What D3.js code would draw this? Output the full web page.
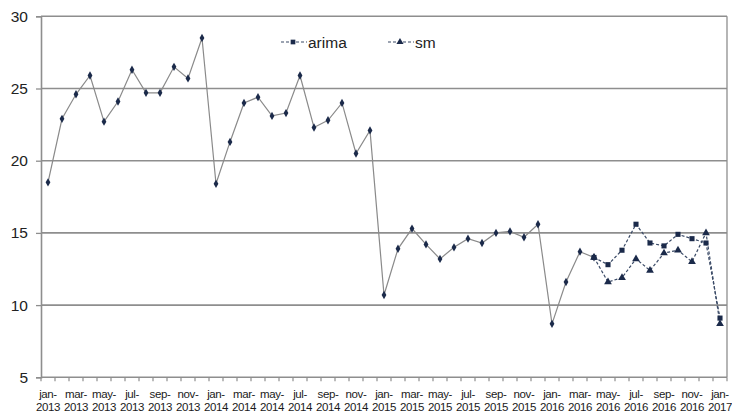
<!DOCTYPE html>
<html>
<head>
<meta charset="utf-8">
<script src="https://cdn.jsdelivr.net/npm/d3@7"></script>
<style>
  body { margin: 0; background: #fff; }
  svg { display: block; }
</style>
</head>
<body>
<div class="chart"></div>
<script>
"use strict";

// Monthly categories, jan-2013 .. jan-2017
var categories = [
    'jan-2013', 'feb-2013', 'mar-2013', 'apr-2013', 'may-2013', 'jun-2013', 'jul-2013', 'aug-2013', 'sep-2013', 'oct-2013', 'nov-2013', 'dec-2013',
    'jan-2014', 'feb-2014', 'mar-2014', 'apr-2014', 'may-2014', 'jun-2014', 'jul-2014', 'aug-2014', 'sep-2014', 'oct-2014', 'nov-2014', 'dec-2014',
    'jan-2015', 'feb-2015', 'mar-2015', 'apr-2015', 'may-2015', 'jun-2015', 'jul-2015', 'aug-2015', 'sep-2015', 'oct-2015', 'nov-2015', 'dec-2015',
    'jan-2016', 'feb-2016', 'mar-2016', 'apr-2016', 'may-2016', 'jun-2016', 'jul-2016', 'aug-2016', 'sep-2016', 'oct-2016', 'nov-2016', 'dec-2016',
    'jan-2017'
]

// observed series (jan-2013 .. apr-2016)
var actualValues = [
    18.5, 22.9, 24.6, 25.9, 22.7, 24.1, 26.3, 24.7, 24.7, 26.5, 25.7, 28.5,
    18.4, 21.3, 24.0, 24.4, 23.1, 23.3, 25.9, 22.3, 22.8, 24.0, 20.5, 22.1,
    10.7, 13.9, 15.3, 14.2, 13.2, 14.0, 14.6, 14.3, 15.0, 15.1, 14.7, 15.6,
    8.7, 11.6, 13.7, 13.3
]

// forecasts (apr-2016 .. jan-2017)
var forecastStart = 'apr-2016'
var arimaValues = [13.3, 12.8, 13.8, 15.6, 14.3, 14.1, 14.9, 14.6, 14.3, 9.1]
var smValues = [13.3, 11.6, 11.9, 13.2, 12.4, 13.6, 13.8, 13.0, 15.0, 8.7]

var yTicks = [5, 10, 15, 20, 25, 30]

var width = 732
var height = 414
var plotLeft = 41, plotRight = 727, plotTop = 16.3, plotBottom = 377.3

var svg = d3.select('div.chart').append('svg')
    .attr('width', width)
    .attr('height', height)

var x = d3.scaleBand()
    .domain(categories)
    .range([plotLeft, plotRight])
    .padding(0)

var y = d3.scaleLinear()
    .domain([5, 30])
    .range([plotBottom, plotTop])

var cx = d => x(d) + x.bandwidth() / 2
var gridColor = '#8e8e8e'

// horizontal gridlines
svg.append('g').selectAll('line')
    .data(yTicks.filter(d => d > 5))
    .enter()
    .append('line')
    .attr('x1', plotLeft)
    .attr('x2', plotRight)
    .attr('y1', d => y(d))
    .attr('y2', d => y(d))
    .attr('stroke', gridColor)
    .attr('stroke-width', 1.6)

// right border
svg.append('line')
    .attr('x1', plotRight).attr('x2', plotRight)
    .attr('y1', y(30)).attr('y2', y(5))
    .attr('stroke', gridColor)
    .attr('stroke-width', 1.3)

// y axis
var yAxis = svg.append('g')
    .attr('transform', 'translate(' + plotLeft + ',0)')
    .call(d3.axisLeft(y).tickValues(yTicks).tickSize(5).tickPadding(8))
yAxis.select('.domain').attr('stroke', gridColor).attr('stroke-width', 1.6)
yAxis.selectAll('.tick line').attr('stroke', gridColor).attr('stroke-width', 1.3)
yAxis.selectAll('.tick text')
    .attr('font-family', 'Liberation Sans, Arial, sans-serif')
    .attr('font-size', 15.5)
    .attr('fill', '#222')

// x axis line and ticks at category boundaries
svg.append('line')
    .attr('x1', plotLeft).attr('x2', plotRight)
    .attr('y1', plotBottom).attr('y2', plotBottom)
    .attr('stroke', gridColor)
    .attr('stroke-width', 1.6)

svg.append('g').selectAll('line')
    .data(categories.concat(['end']))
    .enter()
    .append('line')
    .attr('x1', (d, i) => plotLeft + i * x.bandwidth())
    .attr('x2', (d, i) => plotLeft + i * x.bandwidth())
    .attr('y1', plotBottom)
    .attr('y2', plotBottom + 4)
    .attr('stroke', gridColor)
    .attr('stroke-width', 1.2)

// x labels, every second month, split in two lines
var xLabels = svg.append('g').selectAll('text')
    .data(categories.filter((d, i) => i % 2 === 0))
    .enter()
    .append('text')
    .attr('text-anchor', 'middle')
    .attr('font-family', 'Liberation Sans, Arial, sans-serif')
    .attr('font-size', 11.5)
    .attr('letter-spacing', -0.4)
    .attr('fill', '#1a1a1a')
xLabels.append('tspan')
    .attr('x', d => cx(d))
    .attr('y', 397.5)
    .text(d => d.split('-')[0] + '-')
xLabels.append('tspan')
    .attr('x', d => cx(d))
    .attr('y', 411)
    .text(d => d.split('-')[1])

// build series point lists
var actual = actualValues.map((v, i) => ({ c: categories[i], v: v }))
var startIdx = categories.indexOf(forecastStart)
var arima = arimaValues.map((v, i) => ({ c: categories[startIdx + i], v: v }))
var sm = smValues.map((v, i) => ({ c: categories[startIdx + i], v: v }))

var line = d3.line().x(d => cx(d.c)).y(d => y(d.v))
var markColor = '#1b2a4a'

function drawSeries(data, stroke, dash, symbol, size) {
    svg.append('path')
        .datum(data)
        .attr('d', line)
        .attr('fill', 'none')
        .attr('stroke', stroke)
        .attr('stroke-width', 1.2)
        .attr('stroke-dasharray', dash)
    svg.append('g').selectAll('path')
        .data(data)
        .enter()
        .append('path')
        .attr('d', d3.symbol().type(symbol).size(size))
        .attr('transform', d => 'translate(' + cx(d.c) + ',' + y(d.v) + ')')
        .attr('fill', markColor)
}

drawSeries(actual, '#8a8a8a', null, d3.symbolDiamond, 20)
drawSeries(sm, '#3a4a66', '3,2', d3.symbolTriangle, 26)
drawSeries(arima, '#3a4a66', '3,2', d3.symbolSquare, 26)

// legend
var legend = [
    { name: 'arima', x: 281, symbol: d3.symbolSquare },
    { name: 'sm', x: 388, symbol: d3.symbolTriangle }
]
legend.forEach(function (item) {
    svg.append('line')
        .attr('x1', item.x).attr('x2', item.x + 26)
        .attr('y1', 42).attr('y2', 42)
        .attr('stroke', '#3a4a66')
        .attr('stroke-width', 1.2)
        .attr('stroke-dasharray', '3,2')
    svg.append('path')
        .attr('d', d3.symbol().type(item.symbol).size(22))
        .attr('transform', 'translate(' + (item.x + 12) + ',42)')
        .attr('fill', markColor)
    svg.append('text')
        .text(item.name)
        .attr('x', item.x + 27)
        .attr('y', 47.5)
        .attr('font-family', 'Liberation Sans, Arial, sans-serif')
        .attr('font-size', 15.5)
        .attr('fill', '#222')
})
</script>
</body>
</html>
